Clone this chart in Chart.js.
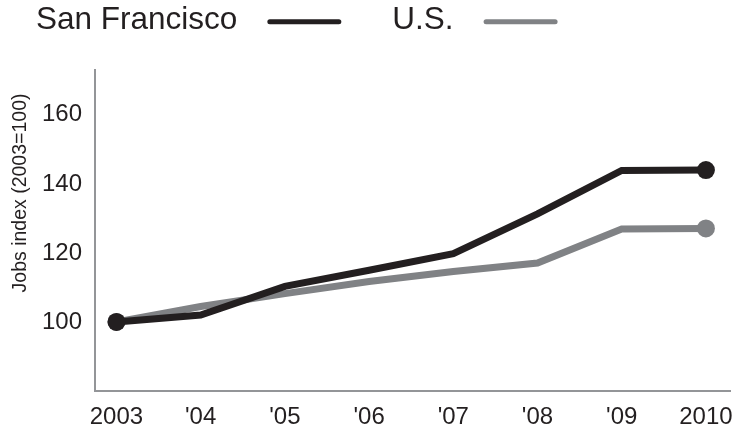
<!DOCTYPE html>
<html>
<head>
<meta charset="utf-8">
<title>Jobs index</title>
<script src="https://cdn.jsdelivr.net/npm/chart.js@4/dist/chart.umd.min.js"></script>
<style>
  html, body { margin: 0; padding: 0; background: #fff; }
  #chart { display: block; }
</style>
</head>
<body>
<canvas id="chart" width="739" height="432"></canvas>
<script>
const years = ['2003', "'04", "'05", "'06", "'07", "'08", "'09", '2010'];
const sanFrancisco = [100, 102, 110.3, 115, 119.8, 131.3, 143.9, 144];
const unitedStates = [100, 104.5, 108.2, 111.7, 114.6, 117.1, 126.9, 127.1];
const yTicks = [100, 120, 140, 160];

const INK = '#231f20';
const GREY = '#808285';
const FONT = '"Liberation Sans", Arial, sans-serif';

// text-then-line legend across the top
const topLegend = {
  id: 'topLegend',
  afterDraw(chart) {
    const ctx = chart.ctx;
    ctx.save();
    ctx.font = '31.5px ' + FONT;
    ctx.textBaseline = 'alphabetic';
    let x = 36;
    chart.data.datasets.forEach(ds => {
      ctx.fillStyle = INK;
      ctx.fillText(ds.label, x, 29);
      x += ctx.measureText(ds.label).width + 30;
      ctx.strokeStyle = ds.borderColor;
      ctx.lineWidth = 5;
      ctx.lineCap = 'round';
      ctx.beginPath();
      ctx.moveTo(x + 2.5, 21.7);
      ctx.lineTo(x + 71.5, 21.7);
      ctx.stroke();
      x += 74 + 51;
    });
    ctx.restore();
  }
};

// rotated y-axis caption, sits a bit above the plot's middle
const yCaption = {
  id: 'yCaption',
  afterDraw(chart) {
    const ctx = chart.ctx;
    ctx.save();
    ctx.font = '19.5px ' + FONT;
    ctx.fillStyle = INK;
    ctx.textAlign = 'center';
    ctx.textBaseline = 'alphabetic';
    ctx.translate(26, 193);
    ctx.rotate(-Math.PI / 2);
    ctx.fillText('Jobs index (2003=100)', 0, 0);
    ctx.restore();
  }
};

const endDot = c => (c.dataIndex === 0 || c.dataIndex === years.length - 1) ? 9 : 0;

function series(label, values, color) {
  return {
    label,
    data: values.map((v, i) => ({ x: i, y: v })),
    borderColor: color,
    backgroundColor: color,
    borderWidth: 7,
    tension: 0,
    pointRadius: endDot,
    pointHoverRadius: endDot,
    pointBorderWidth: 0,
    pointBackgroundColor: color,
    clip: false
  };
}

new Chart(document.getElementById('chart'), {
  type: 'line',
  data: {
    datasets: [
      series('San Francisco', sanFrancisco, INK),
      series('U.S.', unitedStates, GREY)
    ]
  },
  options: {
    responsive: false,
    animation: false,
    devicePixelRatio: 1,
    layout: { padding: { top: 70, right: 3, left: 0, bottom: 0 } },
    plugins: {
      legend: { display: false },
      tooltip: { enabled: false }
    },
    scales: {
      x: {
        type: 'linear',
        min: -0.255,
        max: 7.286,
        afterBuildTicks: s => { s.ticks = years.map((_, i) => ({ value: i })); },
        afterFit: s => { s.height = 41; },
        grid: { display: false },
        border: { display: true, color: '#939598', width: 2 },
        ticks: {
          autoSkip: false,
          maxRotation: 0,
          padding: 4,
          color: INK,
          font: { family: FONT, size: 24 },
          callback: v => years[v]
        }
      },
      y: {
        min: 80,
        max: 173,
        afterBuildTicks: s => { s.ticks = yTicks.map(v => ({ value: v })); },
        afterFit: s => { s.width = 95; },
        grid: { display: false },
        border: { display: true, color: '#939598', width: 2 },
        ticks: {
          padding: 5,
          color: INK,
          font: { family: FONT, size: 24 }
        }
      }
    }
  },
  plugins: [topLegend, yCaption]
});
</script>
</body>
</html>
